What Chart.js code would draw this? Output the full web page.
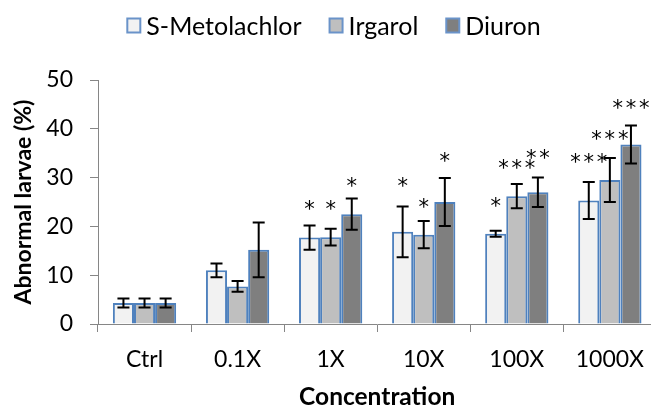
<!DOCTYPE html>
<html><head><meta charset="utf-8">
<script src="https://cdn.jsdelivr.net/npm/chart.js@4"></script>
<style>html,body{margin:0;padding:0;background:#fff;overflow:hidden;width:651px;height:409px}
#wrap{width:658px;height:409px}</style></head>
<body><div id="wrap"><canvas id="c" width="658" height="409"></canvas></div>
<script>
const categories = ['Ctrl', '0.1X', '1X', '10X', '100X', '1000X'];
const seriesNames = ['S-Metolachlor', 'Irgarol', 'Diuron'];
const sMetolachlor = [4.3, 11.0, 17.7, 18.9, 18.5, 25.3];
const irgarol = [4.3, 7.7, 17.8, 18.3, 26.2, 29.5];
const diuron = [4.3, 15.2, 22.5, 25.0, 27.0, 36.8];
const sMetolachlorErr = [0.9, 1.4, 2.5, 5.2, 0.6, 3.8];
const irgarolErr = [0.9, 1.1, 1.7, 2.8, 2.5, 4.5];
const diuronErr = [0.9, 5.6, 3.2, 4.9, 3.0, 3.9];
const sMetolachlorStars = ['', '', '*', '*', '*', '***'];
const irgarolStars = ['', '', '*', '*', '***', '***'];
const diuronStars = ['', '', '*', '*', '**', '***'];
const sMetolachlorStarAt = [null, null, 24.3, 29.0, 24.9, 34.0];
const irgarolStarAt = [null, null, 24.3, 24.7, 32.7, 38.7];
const diuronStarAt = [null, null, 29.0, 34.2, 34.8, 45.0];
const yMin = 0, yMax = 50, yStep = 10;

const fills = ['#F2F2F2', '#BFBFBF', '#7F7F7F'];
const borderBlue = '#4F81BD';
const FONT = 'Lato';
const values = [sMetolachlor, irgarol, diuron];
const errors = [sMetolachlorErr, irgarolErr, diuronErr];
const stars = [sMetolachlorStars, irgarolStars, diuronStars];
const starAt = [sMetolachlorStarAt, irgarolStarAt, diuronStarAt];

const extras = {
  id: 'extras',
  afterDatasetsDraw(chart) {
    const ctx = chart.ctx;
    const ys = chart.scales.y;
    ctx.save();
    ctx.strokeStyle = '#000';
    ctx.lineWidth = 2;
    values.forEach((vals, i) => {
      const meta = chart.getDatasetMeta(i);
      vals.forEach((v, j) => {
        const x = meta.data[j].x;
        const t = ys.getPixelForValue(v + errors[i][j]);
        const b = ys.getPixelForValue(v - errors[i][j]);
        ctx.beginPath();
        ctx.moveTo(x, t); ctx.lineTo(x, b);
        ctx.moveTo(x - 6, t); ctx.lineTo(x + 6, t);
        ctx.moveTo(x - 6, b); ctx.lineTo(x + 6, b);
        ctx.stroke();
        const s = stars[i][j];
        if (s) {
          ctx.font = '21px "DejaVu Sans"';
          ctx.fillStyle = '#000';
          ctx.textAlign = 'center';
          ctx.textBaseline = 'alphabetic';
          const m = ctx.measureText('*');
          const cy = ys.getPixelForValue(starAt[i][j]);
          const base = cy + (m.actualBoundingBoxAscent - m.actualBoundingBoxDescent) / 2;
          const n = s.length;
          for (let k = 0; k < n; k++) {
            ctx.fillText('*', x + (k - (n - 1) / 2) * 13.3, base);
          }
        }
      });
    });
    ctx.restore();
  },
  afterDraw(chart) {
    const ctx = chart.ctx;
    ctx.save();
    ctx.font = '25px ' + FONT;
    ctx.textBaseline = 'middle';
    ctx.textAlign = 'left';
    const boxW = 13, boxH = 14, gapT = 6, gapI = 28;
    const widths = seriesNames.map(n => ctx.measureText(n).width);
    let total = widths.reduce((a, b) => a + b, 0) + seriesNames.length * (boxW + gapT) + gapI * (seriesNames.length - 1);
    let x = 334 - total / 2;
    const cy = 25.5;
    seriesNames.forEach((n, i) => {
      ctx.fillStyle = fills[i];
      ctx.fillRect(x, cy - boxH / 2, boxW, boxH);
      ctx.strokeStyle = '#6A93C9';
      ctx.lineWidth = 2;
      ctx.strokeRect(x, cy - boxH / 2, boxW, boxH);
      ctx.fillStyle = '#000';
      ctx.fillText(n, x + boxW + gapT, cy + 1);
      x += boxW + gapT + widths[i] + gapI;
    });
    ctx.restore();
  }
};

new Chart(document.getElementById('c'), {
  type: 'bar',
  data: {
    labels: categories,
    datasets: seriesNames.map((n, i) => ({
      label: n,
      data: values[i],
      backgroundColor: fills[i],
      borderColor: borderBlue,
      borderWidth: 2,
      categoryPercentage: 0.68,
      barPercentage: 1.0
    }))
  },
  options: {
    responsive: false,
    devicePixelRatio: 1,
    animation: false,
    layout: { padding: { top: 80, left: 0, right: 0, bottom: 0 } },
    plugins: { legend: { display: false }, tooltip: { enabled: false } },
    scales: {
      x: {
        afterFit(s) { s.height = 85; },
        grid: { offset: true, drawOnChartArea: false, tickLength: 8, color: '#868686', lineWidth: 1 },
        border: { color: '#868686', width: 1 },
        ticks: { font: { family: FONT, size: 23 }, color: '#000', padding: 14, maxRotation: 0 },
        title: { display: true, text: 'Concentration', font: { family: FONT, size: 24.5, weight: 'bold', lineHeight: 1.0 }, color: '#000', padding: { top: 0, bottom: 0 } }
      },
      y: {
        min: yMin, max: yMax,
        afterFit(s) { s.width = 98; },
        grid: { drawOnChartArea: false, tickLength: 8, color: '#868686', lineWidth: 1 },
        border: { color: '#868686', width: 1 },
        ticks: { stepSize: yStep, font: { family: FONT, size: 23 }, color: '#000', padding: 17 },
        title: { display: true, text: 'Abnormal larvae (%)', font: { family: FONT, size: 23, weight: 'bold', lineHeight: 1.0 }, color: '#000', padding: { top: 12, bottom: 0 } }
      }
    }
  },
  plugins: [extras]
});
</script></body></html>
